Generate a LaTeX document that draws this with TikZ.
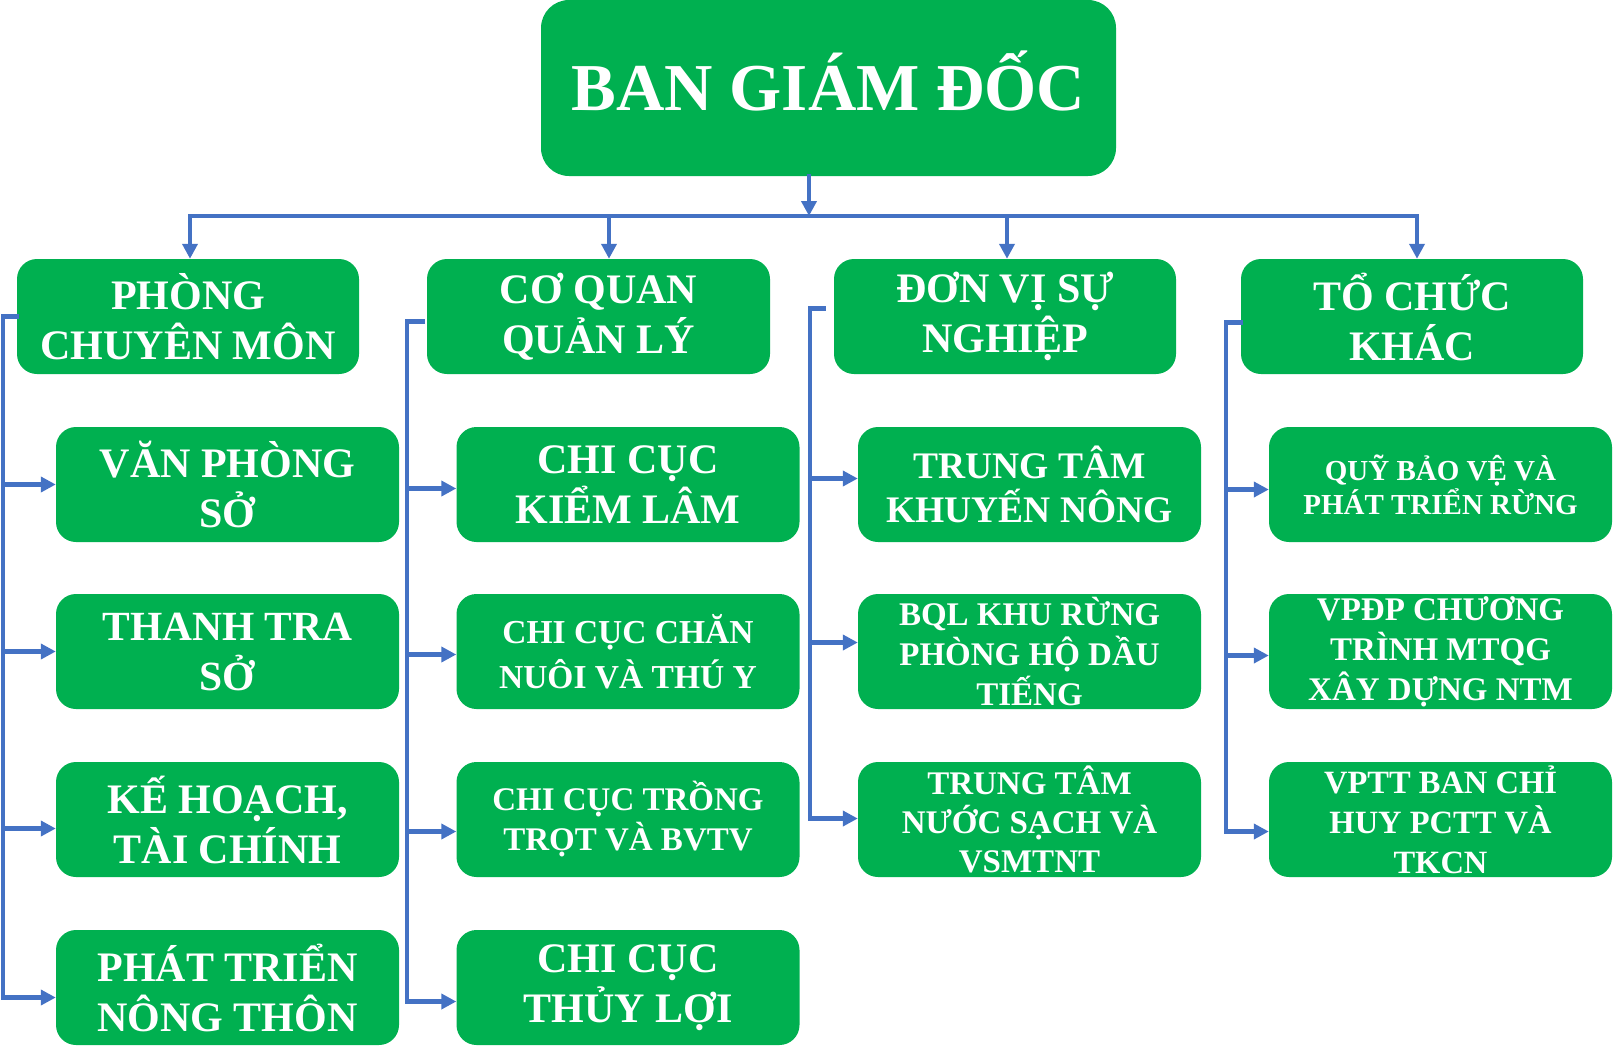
\documentclass[tikz,border=0pt]{standalone}
\usepackage{fontspec}
\setmainfont{Liberation Serif}
\usepackage{tikz}
\usepackage{xcolor}
\usetikzlibrary{shapes.geometric, arrows.meta, positioning, calc}
\definecolor{xanhla}{HTML}{00B050}
\definecolor{xanhduong}{HTML}{4472C4}
\tikzstyle{khoi} = [rectangle, rounded corners=20pt,
fill=xanhla, draw=none, text=white,
minimum width=343pt, minimum height=115pt,
inner sep=0pt, align=center,
font=\bfseries\fontsize{42}{50}\selectfont]
\tikzstyle{noi} = [line width=4.2pt, line cap=rect, draw=xanhduong]
\tikzstyle{muiten} = [noi, -{Triangle[length=15pt,width=15pt]}]
\tikzset{co/.style n args={2}{font=\bfseries\fontsize{#1}{#2}\selectfont}}

\begin{document}
\begin{tikzpicture}[x=1pt, y=1pt]
        \useasboundingbox (0,0) rectangle (1613,-1063);

        % Ban giám đốc
        \node[khoi, rounded corners=28pt, minimum width=575pt, minimum height=176pt,
              co={67}{80}, text height=45pt, text depth=0pt] (bgd) at (828.5,-88) {BAN GIÁM ĐỐC};

        % Khối cấp 2
        \node[khoi, minimum width=342pt] (pcm) at (188,-316.5) {PHÒNG\\CHUYÊN MÔN};
        \node[khoi] (cqql) at (598.5,-316.5) {CƠ QUAN\\QUẢN LÝ};
        \node[khoi, minimum width=342pt] (dvsn) at (1005,-316.5) {ĐƠN VỊ SỰ\\NGHIỆP};
        \node[khoi, minimum width=342pt] (tck) at (1412,-316.5) {TỔ CHỨC\\KHÁC};

        % Phòng chuyên môn
        \node[khoi] (vps) at (227.5,-484.5) {VĂN PHÒNG\\SỞ};
        \node[khoi, co={41.5}{50}] (ttra) at (227.5,-651.5) {THANH TRA\\SỞ};
        \node[khoi] (khtc) at (227.5,-819.5) {KẾ HOẠCH,\\TÀI CHÍNH};
        \node[khoi] (ptnt) at (227.5,-987.5) {PHÁT TRIỂN\\NÔNG THÔN};

        % Cơ quan quản lý
        \node[khoi] (kl) at (628,-484.5) {CHI CỤC\\KIỂM LÂM};
        \node[khoi, co={33.5}{45}] (cnty) at (628,-651.5) {CHI CỤC CHĂN\\NUÔI VÀ THÚ Y};
        \node[khoi, co={33}{40}] (ttbv) at (628,-819.5) {CHI CỤC TRỒNG\\TRỌT VÀ BVTV};
        \node[khoi] (cctl) at (628,-987.5) {CHI CỤC\\THỦY LỢI};

        % Đơn vị sự nghiệp
        \node[khoi, co={37.5}{44}] (ttkn) at (1029.5,-484.5) {TRUNG TÂM\\KHUYẾN NÔNG};
        \node[khoi, co={33}{40}] (bql) at (1029.5,-651.5) {BQL KHU RỪNG\\PHÒNG HỘ DẦU\\TIẾNG};
        \node[khoi, co={33}{39}] (ttns) at (1029.5,-819.5) {TRUNG TÂM\\NƯỚC SẠCH VÀ\\VSMTNT};

        % Tổ chức khác
        \node[khoi, co={29}{34}] (qbv) at (1440.5,-484.5) {QUỸ BẢO VỆ VÀ\\PHÁT TRIỂN RỪNG};
        \node[khoi, co={33}{40}] (vpdp) at (1440.5,-651.5) {VPĐP CHƯƠNG\\TRÌNH MTQG\\XÂY DỰNG NTM};
        \node[khoi, co={32.5}{40}] (vptt) at (1440.5,-819.5) {VPTT BAN CHỈ\\HUY PCTT VÀ\\TKCN};

        % Đường trục
        \coordinate (bus) at (0,-216);
        \coordinate (tr1) at (3,0);
        \coordinate (tr2) at (407,0);
        \coordinate (tr3) at (810,0);
        \coordinate (tr4) at (1226,0);

        % Từ ban giám đốc xuống các khối
        \draw[muiten] ($(bgd.south)+(-19.5,0)$) -- ($(bgd.south |- bus)+(-19.5,0)$);
        \draw[noi] ($(pcm.north |- bus)+(2,0)$) -- ($(tck.north |- bus)+(5,0)$);
        \draw[muiten] ($(pcm.north |- bus)+(2,0)$) -- ($(pcm.north)+(2,0)$);
        \draw[muiten] ($(cqql.north |- bus)+(10.5,0)$) -- ($(cqql.north)+(10.5,0)$);
        \draw[muiten] ($(dvsn.north |- bus)+(2,0)$) -- ($(dvsn.north)+(2,0)$);
        \draw[muiten] ($(tck.north |- bus)+(5,0)$) -- ($(tck.north)+(5,0)$);

        % Nhánh phòng chuyên môn
        \draw[noi] (pcm.west) -| ($(ptnt.west -| tr1)+(0,-10)$);
        \draw[muiten] (vps.west -| tr1) -- (vps.west);
        \draw[muiten] (ttra.west -| tr1) -- (ttra.west);
        \draw[muiten] ($(khtc.west -| tr1)+(0,-9)$) -- ($(khtc.west)+(0,-9)$);
        \draw[muiten] ($(ptnt.west -| tr1)+(0,-10)$) -- ($(ptnt.west)+(0,-10)$);

        % Nhánh cơ quan quản lý
        \draw[noi] ($(cqql.west)+(-4,-5)$) -| ($(cctl.west -| tr2)+(0,-14)$);
        \draw[muiten] ($(kl.west -| tr2)+(0,-4)$) -- ($(kl.west)+(0,-4)$);
        \draw[muiten] ($(cnty.west -| tr2)+(0,-3)$) -- ($(cnty.west)+(0,-3)$);
        \draw[muiten] ($(ttbv.west -| tr2)+(0,-12)$) -- ($(ttbv.west)+(0,-12)$);
        \draw[muiten] ($(cctl.west -| tr2)+(0,-14)$) -- ($(cctl.west)+(0,-14)$);

        % Nhánh đơn vị sự nghiệp
        \draw[noi] ($(dvsn.west)+(-10,8)$) -| ($(ttns.west -| tr3)+(0,1)$);
        \draw[muiten] ($(ttkn.west -| tr3)+(0,6)$) -- ($(ttkn.west)+(0,6)$);
        \draw[muiten] ($(bql.west -| tr3)+(0,9)$) -- ($(bql.west)+(0,9)$);
        \draw[muiten] ($(ttns.west -| tr3)+(0,1)$) -- ($(ttns.west)+(0,1)$);

        % Nhánh tổ chức khác
        \draw[noi] ($(tck.west)+(0,-6)$) -| ($(vptt.west -| tr4)+(0,-12)$);
        \draw[muiten] ($(qbv.west -| tr4)+(0,-5)$) -- ($(qbv.west)+(0,-5)$);
        \draw[muiten] ($(vpdp.west -| tr4)+(0,-4)$) -- ($(vpdp.west)+(0,-4)$);
        \draw[muiten] ($(vptt.west -| tr4)+(0,-12)$) -- ($(vptt.west)+(0,-12)$);

    \end{tikzpicture}
\end{document}
